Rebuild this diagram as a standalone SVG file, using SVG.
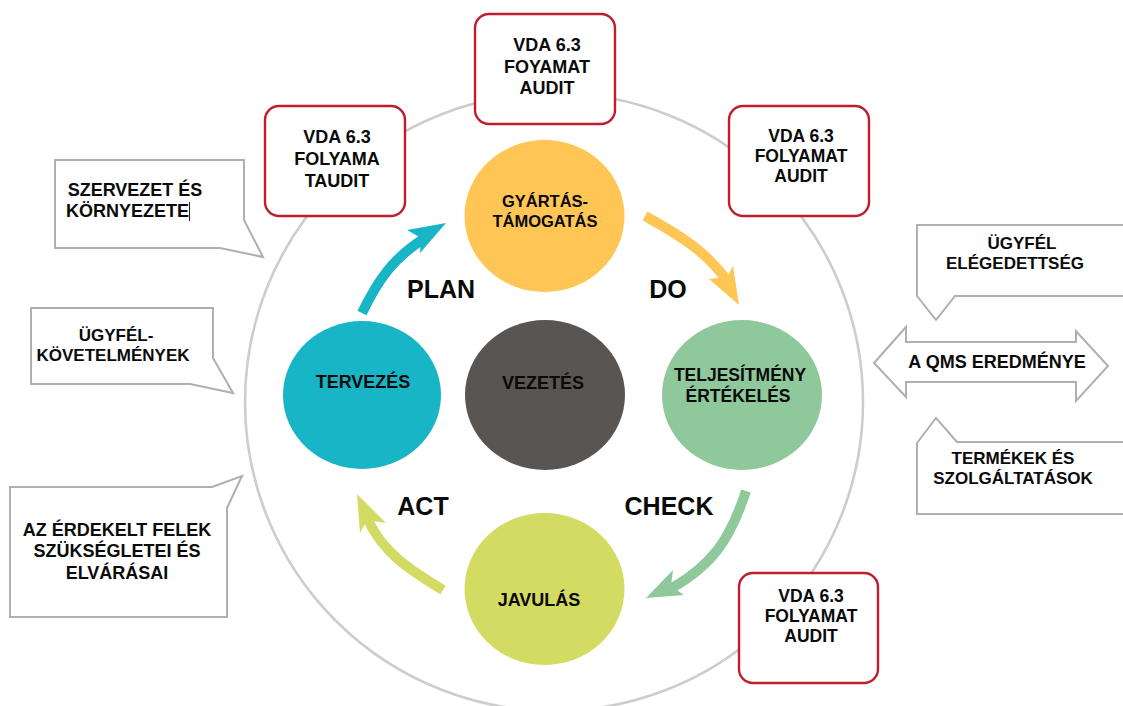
<svg xmlns="http://www.w3.org/2000/svg" width="1123" height="706" viewBox="0 0 1123 706">
<style>
text{font-family:"Liberation Sans",Arial,sans-serif;font-weight:bold;font-size:18px;fill:#0a0a0a;text-anchor:middle}
.big{font-size:25px}
.mid{font-size:17.500px}
.small{font-size:17px}
.audit{fill:#fff;stroke:#bf1e2e;stroke-width:2.400}
.call{fill:#fff;stroke:#b0aeae;stroke-width:2}
.flow{fill:none;stroke-width:10}
</style>
<rect width="1123" height="706" fill="#fff"/>
<circle id="ring" cx="554" cy="402" r="309" fill="#fff" stroke="#cdcdcd" stroke-width="2.600"/>
<g id="connectors">
<path class="flow" stroke="#17b5c5" d="M362 313C378 280 393 258 425 238"/>
<polygon fill="#17b5c5" points="407,230 446,223 420,253 421,238"/>
<path class="flow" stroke="#ffc555" d="M645 216C685 238 710 255 730 285"/>
<polygon fill="#ffc555" points="709,279 727,277 733,266 739,305"/>
<path class="flow" stroke="#8ec89b" d="M746 491C730 540 712 565 672 588"/>
<polygon fill="#8ec89b" points="673,570 671,586 684,595 646,598"/>
<path class="flow" stroke="#d4db62" d="M443 590C408 569 383 552 368 520"/>
<polygon fill="#d4db62" points="360,533 367,520 386,523 357,494"/>
</g>
<g id="gyartas"><ellipse cx="544.500" cy="216" rx="80" ry="76" fill="#ffc555"/><text style="font-size:16.500px"><tspan x="545" y="207">GYÁRTÁS-</tspan><tspan x="545" y="227">TÁMOGATÁS</tspan></text></g>
<g id="tervezes"><ellipse cx="362" cy="395" rx="79" ry="74" fill="#17b5c5"/><text x="363" y="388">TERVEZÉS</text></g>
<g id="vezetes"><ellipse cx="545" cy="395" rx="80" ry="75" fill="#595553"/><text x="543" y="389">VEZETÉS</text></g>
<g id="teljesitmeny"><ellipse cx="742" cy="395" rx="80" ry="75" fill="#8ec89b"/><text class="mid"><tspan x="740" y="381">TELJESÍTMÉNY</tspan><tspan x="738" y="402">ÉRTÉKELÉS</tspan></text></g>
<g id="javulas"><ellipse cx="544.500" cy="589" rx="80" ry="76" fill="#d4db62"/><text x="539" y="606">JAVULÁS</text></g>
<g id="audit-1"><rect class="audit" x="265" y="106" width="140" height="110" rx="14"/><text><tspan x="337" y="143">VDA 6.3</tspan><tspan x="337" y="165">FOLYAMA</tspan><tspan x="337" y="187">TAUDIT</tspan></text></g>
<g id="audit-2"><rect class="audit" x="475" y="14" width="140" height="110" rx="14"/><text><tspan x="547" y="51">VDA 6.3</tspan><tspan x="547" y="73">FOYAMAT</tspan><tspan x="547" y="94">AUDIT</tspan></text></g>
<g id="audit-3"><rect class="audit" x="729" y="106" width="140" height="110" rx="14"/><text class="mid"><tspan x="801" y="142">VDA 6.3</tspan><tspan x="801" y="162">FOLYAMAT</tspan><tspan x="801" y="182">AUDIT</tspan></text></g>
<g id="audit-4"><rect class="audit" x="739" y="573" width="139" height="110" rx="14"/><text class="mid"><tspan x="811" y="602">VDA 6.3</tspan><tspan x="811" y="622">FOLYAMAT</tspan><tspan x="811" y="642">AUDIT</tspan></text></g>
<g id="szervezet"><polygon class="call" points="55,160 244,160 244,220 263,257 220,248 55,248"/><text><tspan x="135" y="196">SZERVEZET ÉS</tspan><tspan x="127.500" y="217">KÖRNYEZETE</tspan></text><line x1="189.500" y1="202" x2="189.500" y2="221" stroke="#222" stroke-width="1"/></g>
<g id="kovetelmenyek"><polygon class="call" points="31,308 213,308 213,358 233,393 190,384 31,384"/><text class="small"><tspan x="116" y="341">ÜGYFÉL-</tspan><tspan x="113" y="361">KÖVETELMÉNYEK</tspan></text></g>
<g id="erdekelt"><polygon class="call" points="10,487 212,487 242,476 227,508 227,617 10,617"/><text><tspan x="117" y="536">AZ ÉRDEKELT FELEK</tspan><tspan x="117" y="557">SZÜKSÉGLETEI ÉS</tspan><tspan x="117" y="579">ELVÁRÁSAI</tspan></text></g>
<g id="elegedettseg"><polyline class="call" points="1124,225 917,225 917,296 936,320 955,296 1124,296"/><text class="small"><tspan x="1022" y="249">ÜGYFÉL</tspan><tspan x="1015" y="269">ELÉGEDETTSÉG</tspan></text></g>
<g id="qms"><polygon class="call" points="874,363 906,327 906,342 1076,342 1076,331 1108,366 1076,401 1076,382 906,382 906,397"/><text x="997" y="368">A QMS EREDMÉNYE</text></g>
<g id="termekek"><polyline class="call" points="1124,442 957,442 936,418 917,443 917,514 1124,514"/><text class="small"><tspan x="1013" y="464">TERMÉKEK ÉS</tspan><tspan x="1013" y="484">SZOLGÁLTATÁSOK</tspan></text></g>
<g id="labels"><text class="big" x="441" y="298">PLAN</text><text class="big" x="668" y="298">DO</text><text class="big" x="669" y="515">CHECK</text><text class="big" x="423" y="515">ACT</text></g>
</svg>
